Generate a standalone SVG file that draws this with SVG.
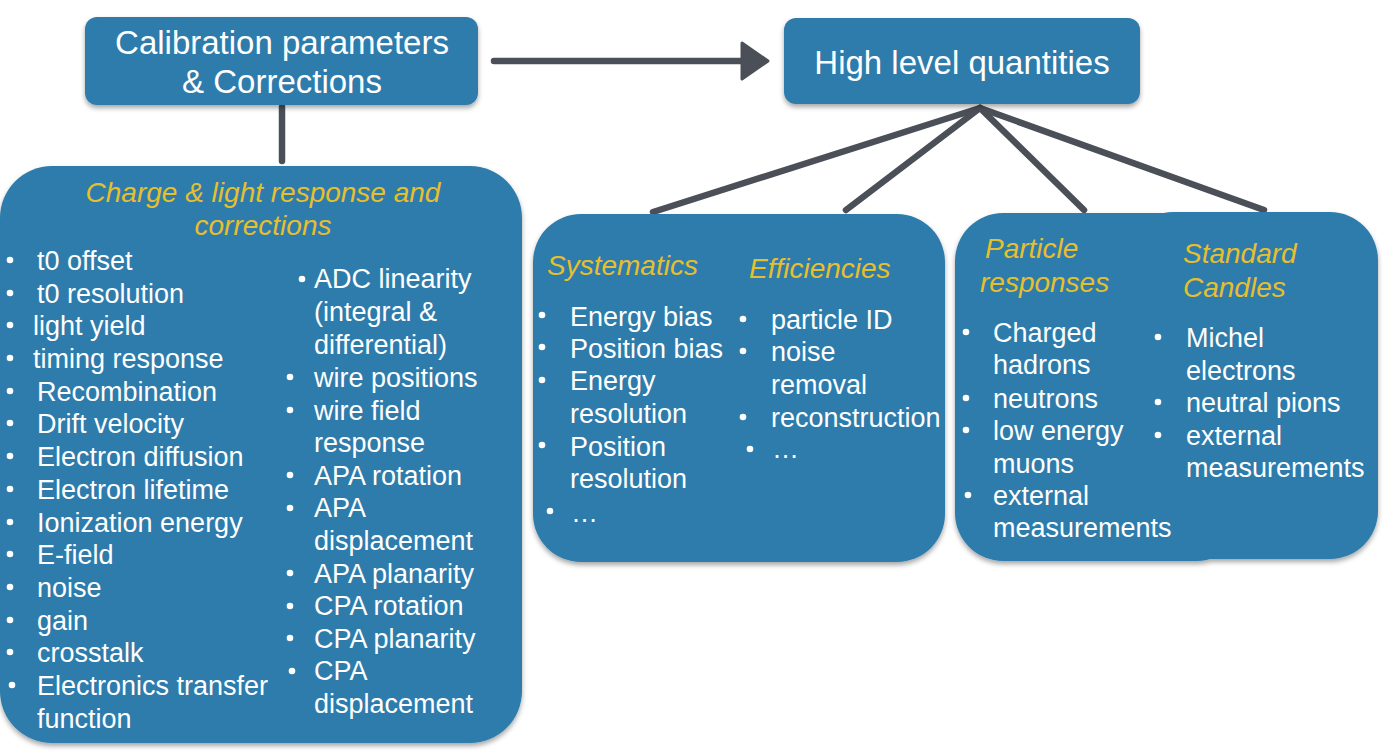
<svg xmlns="http://www.w3.org/2000/svg" width="1384" height="756" viewBox="0 0 1384 756">
<defs>
<filter id="sh" x="-10%" y="-10%" width="120%" height="125%">
<feDropShadow dx="0" dy="3" stdDeviation="2.5" flood-color="#000" flood-opacity="0.35"/>
</filter>
</defs>
<style>
.box{fill:#2f7bab;}
.t{font-family:"Liberation Sans",Arial,sans-serif;fill:#ffffff;}
.title{font-size:33px;text-anchor:middle;}
.body{font-size:27px;}
.hd{font-family:"Liberation Sans",Arial,sans-serif;font-style:italic;font-size:28px;fill:#e6bf2e;}
.dot{fill:#ffffff;}
.con{stroke:#4b4f57;stroke-width:6.5;stroke-linecap:round;fill:none;}
</style>
<rect width="1384" height="756" fill="#ffffff"/>

<g id="connectors">
<line class="con" x1="494" y1="61" x2="748" y2="61"/>
<polygon points="768,61 742,43 742,79" fill="#4b4f57" stroke="#4b4f57" stroke-width="3" stroke-linejoin="round"/>
<line class="con" x1="282" y1="107" x2="282" y2="161"/>
<line class="con" x1="980" y1="108" x2="653" y2="212"/>
<line class="con" x1="980" y1="108" x2="846" y2="210"/>
<line class="con" x1="980" y1="108" x2="1084" y2="210"/>
<line class="con" x1="980" y1="108" x2="1264" y2="210"/>
</g>

<g id="calibration">
<rect class="box" x="85" y="17" width="393" height="88" rx="12" filter="url(#sh)"/>
<text class="t title" x="282" y="54">Calibration parameters</text>
<text class="t title" x="282" y="93">&amp; Corrections</text>
</g>

<g id="high-level">
<rect class="box" x="784" y="18" width="356" height="86" rx="12" filter="url(#sh)"/>
<text class="t title" x="962" y="74">High level quantities</text>
</g>

<g id="charge-light">
<rect class="box" x="0" y="166" width="522" height="577" rx="52" filter="url(#sh)"/>
<text class="hd" x="263" y="202" text-anchor="middle">Charge &amp; light response and</text>
<text class="hd" x="263" y="235" text-anchor="middle">corrections</text>
<g class="dot">
<circle cx="10" cy="260" r="3.3"/><circle cx="10" cy="293" r="3.3"/><circle cx="10" cy="325" r="3.3"/>
<circle cx="10" cy="358" r="3.3"/><circle cx="10" cy="391" r="3.3"/><circle cx="10" cy="423" r="3.3"/>
<circle cx="10" cy="456" r="3.3"/><circle cx="10" cy="489" r="3.3"/><circle cx="10" cy="522" r="3.3"/>
<circle cx="10" cy="554" r="3.3"/><circle cx="10" cy="587" r="3.3"/><circle cx="10" cy="620" r="3.3"/>
<circle cx="10" cy="652" r="3.3"/><circle cx="12" cy="685" r="3.3"/>
<circle cx="302" cy="279" r="3.3"/><circle cx="290" cy="377" r="3.3"/><circle cx="290" cy="410" r="3.3"/>
<circle cx="290" cy="475" r="3.3"/><circle cx="290" cy="508" r="3.3"/><circle cx="290" cy="573" r="3.3"/>
<circle cx="290" cy="606" r="3.3"/><circle cx="290" cy="638" r="3.3"/><circle cx="292" cy="671" r="3.3"/>
</g>
<text class="t body" x="37" y="270">t0 offset</text>
<text class="t body" x="37" y="303">t0 resolution</text>
<text class="t body" x="33" y="335">light yield</text>
<text class="t body" x="33" y="368">timing response</text>
<text class="t body" x="37" y="401">Recombination</text>
<text class="t body" x="37" y="433">Drift velocity</text>
<text class="t body" x="37" y="466">Electron diffusion</text>
<text class="t body" x="37" y="499">Electron lifetime</text>
<text class="t body" x="37" y="532">Ionization energy</text>
<text class="t body" x="37" y="564">E-field</text>
<text class="t body" x="37" y="597">noise</text>
<text class="t body" x="37" y="630">gain</text>
<text class="t body" x="37" y="662">crosstalk</text>
<text class="t body" x="37" y="695">Electronics transfer</text>
<text class="t body" x="37" y="728">function</text>
<text class="t body" x="314" y="288">ADC linearity</text>
<text class="t body" x="314" y="321">(integral &amp;</text>
<text class="t body" x="314" y="354">differential)</text>
<text class="t body" x="314" y="387">wire positions</text>
<text class="t body" x="314" y="420">wire field</text>
<text class="t body" x="314" y="452">response</text>
<text class="t body" x="314" y="485">APA rotation</text>
<text class="t body" x="314" y="517">APA</text>
<text class="t body" x="314" y="550">displacement</text>
<text class="t body" x="314" y="583">APA planarity</text>
<text class="t body" x="314" y="615">CPA rotation</text>
<text class="t body" x="314" y="648">CPA planarity</text>
<text class="t body" x="314" y="680">CPA</text>
<text class="t body" x="314" y="713">displacement</text>
</g>

<g id="systematics-efficiencies">
<rect class="box" x="533" y="214" width="412" height="348" rx="48" filter="url(#sh)"/>
<text class="hd" x="547" y="275">Systematics</text>
<text class="hd" x="749" y="278">Efficiencies</text>
<g class="dot">
<circle cx="542" cy="315" r="3.3"/><circle cx="542" cy="347" r="3.3"/><circle cx="542" cy="380" r="3.3"/>
<circle cx="542" cy="445" r="3.3"/><circle cx="550" cy="511" r="3.3"/>
<circle cx="743" cy="319" r="3.3"/><circle cx="743" cy="351" r="3.3"/><circle cx="743" cy="417" r="3.3"/>
<circle cx="750" cy="449" r="3.3"/>
</g>
<text class="t body" x="570" y="326">Energy bias</text>
<text class="t body" x="570" y="358">Position bias</text>
<text class="t body" x="570" y="390">Energy</text>
<text class="t body" x="570" y="423">resolution</text>
<text class="t body" x="570" y="456">Position</text>
<text class="t body" x="570" y="488">resolution</text>
<text class="t body" x="571" y="522">…</text>
<text class="t body" x="771" y="329">particle ID</text>
<text class="t body" x="771" y="361">noise</text>
<text class="t body" x="771" y="394">removal</text>
<text class="t body" x="771" y="427">reconstruction</text>
<text class="t body" x="772" y="458">…</text>
</g>

<g id="particle-candles">
<g filter="url(#sh)">
<rect class="box" x="955" y="213" width="290" height="348" rx="48"/>
<rect class="box" x="1125" y="212" width="253" height="347" rx="48"/>
</g>
<text class="hd" x="985" y="258">Particle</text>
<text class="hd" x="980" y="292">responses</text>
<text class="hd" x="1183" y="263">Standard</text>
<text class="hd" x="1183" y="297">Candles</text>
<g class="dot">
<circle cx="966" cy="332" r="3.3"/><circle cx="966" cy="398" r="3.3"/><circle cx="966" cy="430" r="3.3"/>
<circle cx="968" cy="495" r="3.3"/>
<circle cx="1158" cy="337" r="3.3"/><circle cx="1158" cy="402" r="3.3"/><circle cx="1158" cy="435" r="3.3"/>
</g>
<text class="t body" x="993" y="342">Charged</text>
<text class="t body" x="993" y="374">hadrons</text>
<text class="t body" x="993" y="408">neutrons</text>
<text class="t body" x="993" y="440">low energy</text>
<text class="t body" x="993" y="473">muons</text>
<text class="t body" x="993" y="505">external</text>
<text class="t body" x="993" y="537">measurements</text>
<text class="t body" x="1186" y="347">Michel</text>
<text class="t body" x="1186" y="380">electrons</text>
<text class="t body" x="1186" y="412">neutral pions</text>
<text class="t body" x="1186" y="445">external</text>
<text class="t body" x="1186" y="477">measurements</text>
</g>
</svg>
